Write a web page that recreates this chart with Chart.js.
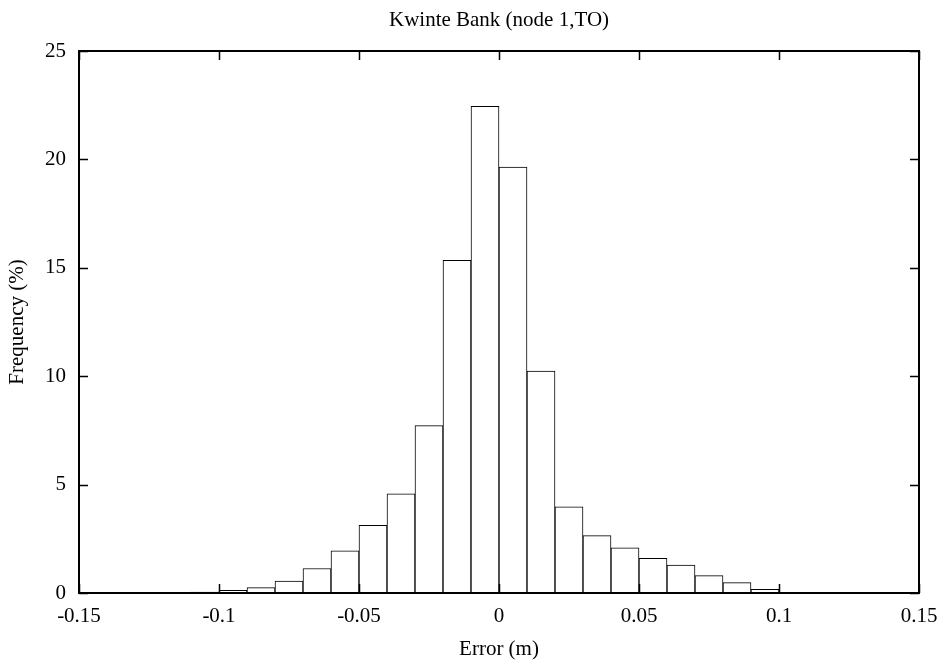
<!DOCTYPE html>
<html>
<head>
<meta charset="utf-8">
<script src="https://cdn.jsdelivr.net/npm/chart.js@4.4.1/dist/chart.umd.min.js"></script>
<style>
  html, body { margin: 0; padding: 0; background: #fff; }
  #wrap { width: 941px; height: 662px; }
</style>
</head>
<body>
<div id="wrap"><canvas id="histChart" width="941" height="662"></canvas></div>
<script>
// bin centres (bins are 0.01 m wide)
const binCenters = [-0.105, -0.095, -0.085, -0.075, -0.065, -0.055, -0.045, -0.035, -0.025, -0.015, -0.005,
                    0.005, 0.015, 0.025, 0.035, 0.045, 0.055, 0.065, 0.075, 0.085, 0.095];
// frequency in %
const frequency = [0.04, 0.12, 0.25, 0.55, 1.13, 1.94, 3.12, 4.57, 7.72, 15.35, 22.45,
                   19.65, 10.24, 3.98, 2.65, 2.08, 1.6, 1.29, 0.8, 0.48, 0.17];
const xTicks = [-0.15, -0.1, -0.05, 0, 0.05, 0.1, 0.15];
const yTicks = [0, 5, 10, 15, 20, 25];

const FONT = "'Liberation Serif', 'Times New Roman', serif";

// gnuplot style: frame around the plot + inward ticks on all 4 sides
const framePlugin = {
  id: 'frame',
  afterDatasetsDraw(chart) {
    const { ctx, chartArea: a, scales } = chart;
    const len = 9;
    ctx.save();
    ctx.strokeStyle = '#000';
    ctx.lineWidth = 1.5;
    ctx.beginPath();
    xTicks.forEach(v => {
      const px = Math.round(scales.x.getPixelForValue(v)) + 0.5;
      ctx.moveTo(px, a.bottom); ctx.lineTo(px, a.bottom - len);
      ctx.moveTo(px, a.top); ctx.lineTo(px, a.top + len);
    });
    yTicks.forEach(v => {
      const py = Math.round(scales.y.getPixelForValue(v)) + 0.5;
      ctx.moveTo(a.left, py); ctx.lineTo(a.left + len, py);
      ctx.moveTo(a.right, py); ctx.lineTo(a.right - len, py);
    });
    ctx.stroke();
    ctx.lineWidth = 2;
    ctx.strokeRect(a.left, a.top, a.right - a.left, a.bottom - a.top);
    ctx.restore();
  }
};

const ctx = document.getElementById('histChart').getContext('2d');
new Chart(ctx, {
  type: 'bar',
  data: {
    datasets: [{
      label: 'Frequency',
      data: binCenters.map((x, i) => ({ x: x, y: frequency[i] })),
      backgroundColor: '#ffffff',
      borderColor: '#000000',
      borderWidth: 1,
      borderSkipped: false,
      barPercentage: 1.0,
      categoryPercentage: 1.0,
    }],
  },
  options: {
    responsive: false,
    animation: false,
    layout: { padding: { left: 0, right: 22, top: 0, bottom: 0 } },
    plugins: {
      legend: { display: false },
      tooltip: { enabled: false },
      title: { display: false },
    },
    scales: {
      x: {
        type: 'linear',
        min: -0.15,
        max: 0.15,
        offset: false,
        afterBuildTicks: s => { s.ticks = xTicks.map(v => ({ value: v })); },
        afterFit: s => { s.height = 69; s.paddingLeft = 0; s.paddingRight = 0; },
        ticks: {
          color: '#000',
          font: { family: FONT, size: 21 },
          padding: 11,
          maxRotation: 0,
          callback: v => String(parseFloat(Number(v).toFixed(2))),
        },
        grid: { display: false, drawTicks: false },
        border: { display: false },
        title: {
          display: true,
          text: 'Error (m)',
          color: '#000',
          font: { family: FONT, size: 21 },
          padding: { top: 0, bottom: 0 },
        },
      },
      // empty top axis, only used to centre the chart title over the plot
      xTop: {
        type: 'linear',
        position: 'top',
        min: -0.15,
        max: 0.15,
        afterFit: s => { s.height = 51; s.paddingLeft = 0; s.paddingRight = 0; },
        ticks: { display: false },
        grid: { display: false, drawTicks: false },
        border: { display: false },
        title: {
          display: true,
          text: 'Kwinte Bank (node 1,TO)',
          color: '#000',
          font: { family: FONT, size: 21 },
          padding: { top: 8, bottom: 0 },
        },
      },
      y: {
        min: 0,
        max: 25,
        afterBuildTicks: s => { s.ticks = yTicks.map(v => ({ value: v })); },
        afterFit: s => { s.width = 79; },
        ticks: {
          color: '#000',
          font: { family: FONT, size: 21 },
          padding: 13,
        },
        grid: { display: false, drawTicks: false },
        border: { display: false },
        title: {
          display: true,
          text: 'Frequency (%)',
          color: '#000',
          font: { family: FONT, size: 21 },
          padding: { top: 5, bottom: 0 },
        },
      },
    },
  },
  plugins: [framePlugin],
});
</script>
</body>
</html>
